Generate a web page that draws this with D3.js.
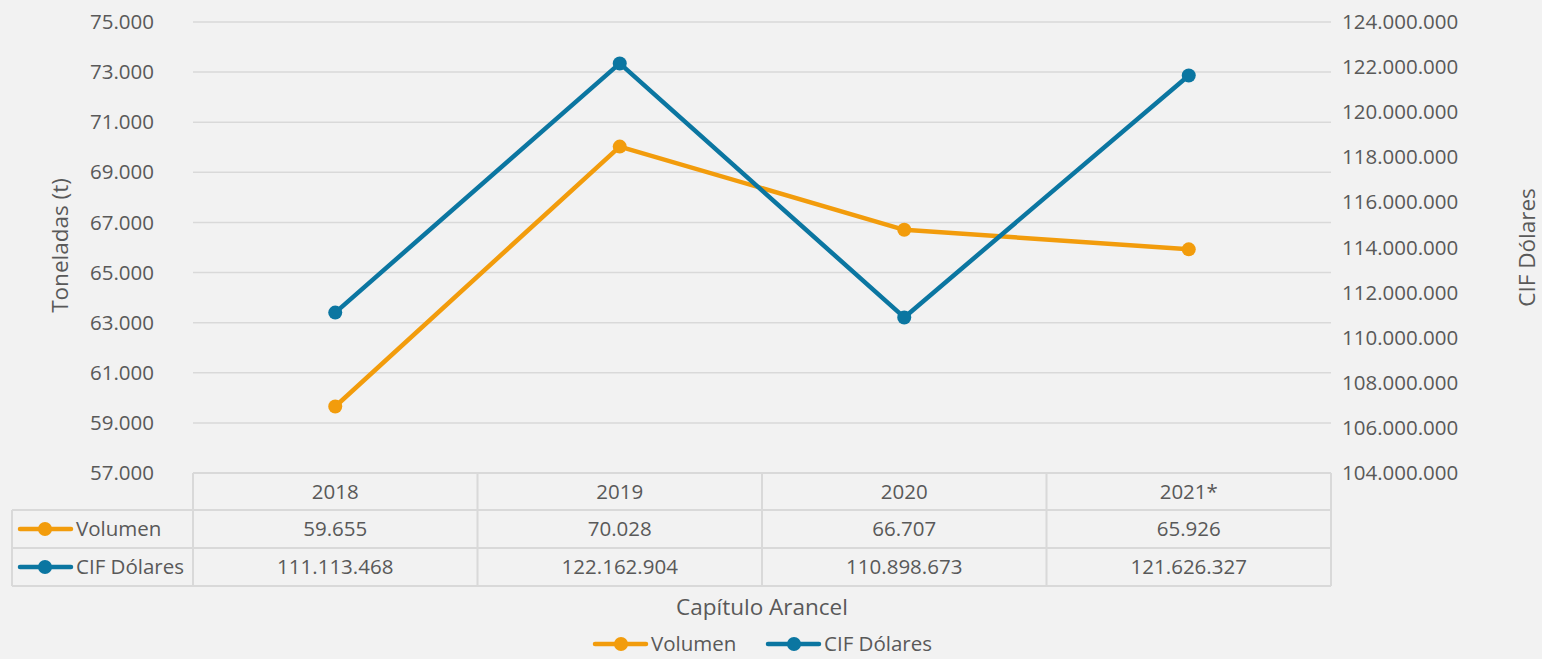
<!DOCTYPE html>
<html><head><meta charset="utf-8">
<script src="https://cdn.jsdelivr.net/npm/d3@7"></script>
<style>body{margin:0;background:#f2f2f2}svg{display:block}text{font-family:"Open Sans",sans-serif;fill:#595959}</style>
</head><body>
<svg id="c" width="1542" height="659"></svg>
<script>
const categories = ["2018","2019","2020","2021*"];
const volumen = [59655, 70028, 66707, 65926];
const cif = [111113468, 122162904, 110898673, 121626327];
const leftTicks = [57000,59000,61000,63000,65000,67000,69000,71000,73000,75000];
const rightTicks = [104000000,106000000,108000000,110000000,112000000,114000000,116000000,118000000,120000000,122000000,124000000];
const seriesNames = ["Volumen","CIF Dólares"];
const colors = ["#f29c0c","#0b76a1"];

const svg = d3.select("#c");
const W=1542,H=659;
svg.append("rect").attr("width",W).attr("height",H).attr("fill","#f2f2f2");
const L=193,R=1331,T=22,B=473;
const fmt = v => d3.format(",")(v).replace(/,/g,".");
const x = d3.scaleBand().domain(categories).range([L,R]);
const yL = d3.scaleLinear().domain([57000,75000]).range([B,T]);
const yR = d3.scaleLinear().domain([104000000,124000000]).range([B,T]);
const fs=20.5, fsT=22.5;

// grid
svg.append("g").selectAll("line").data(leftTicks.slice(1)).join("line")
 .attr("x1",L).attr("x2",R).attr("y1",d=>yL(d)).attr("y2",d=>yL(d))
 .attr("stroke","#d9d9d9").attr("stroke-width",1.5);

// axes
const gl = svg.append("g").attr("transform",`translate(${L},0)`).call(d3.axisLeft(yL).tickValues(leftTicks).tickFormat(fmt).tickSize(0).tickPadding(39));
gl.select(".domain").remove();
gl.selectAll("text").attr("font-size",fs).attr("fill","#595959").style("font-family","Open Sans");
const gr = svg.append("g").attr("transform",`translate(${R},0)`).call(d3.axisRight(yR).tickValues(rightTicks).tickFormat(fmt).tickSize(0).tickPadding(11));
gr.select(".domain").remove();
gr.selectAll("text").attr("font-size",fs).attr("fill","#595959").style("font-family","Open Sans");

svg.append("text").attr("transform",`translate(68,${(T+B)/2-2}) rotate(-90)`).attr("text-anchor","middle").attr("font-size",fsT).text("Toneladas (t)");
svg.append("text").attr("transform",`translate(1535,${(T+B)/2}) rotate(-90)`).attr("text-anchor","middle").attr("font-size",fsT).text("CIF Dólares");

// lines
const cx = d => x(d)+x.bandwidth()/2;
const series = [{name:seriesNames[0],vals:volumen,y:yL,c:colors[0]},{name:seriesNames[1],vals:cif,y:yR,c:colors[1]}];
series.forEach(s=>{
  const line = d3.line().x((d,i)=>cx(categories[i])).y(d=>s.y(d));
  svg.append("path").datum(s.vals).attr("d",line).attr("fill","none").attr("stroke",s.c).attr("stroke-width",4.5).attr("stroke-linejoin","round");
  svg.append("g").selectAll("circle").data(s.vals).join("circle")
   .attr("cx",(d,i)=>cx(categories[i])).attr("cy",d=>s.y(d)).attr("r",7).attr("fill",s.c);
});

// data table
const rowsY=[473,510,548,586];
const tb = svg.append("g").attr("stroke","#d9d9d9").attr("stroke-width",2).attr("fill","none");
tb.append("line").attr("x1",L).attr("x2",R).attr("y1",rowsY[0]).attr("y2",rowsY[0]);
for(let i=1;i<4;i++) tb.append("line").attr("x1",12).attr("x2",R).attr("y1",rowsY[i]).attr("y2",rowsY[i]);
tb.append("line").attr("x1",12).attr("x2",12).attr("y1",rowsY[1]).attr("y2",rowsY[3]);
categories.forEach(c=>tb.append("line").attr("x1",x(c)).attr("x2",x(c)).attr("y1",rowsY[0]).attr("y2",rowsY[3]));
tb.append("line").attr("x1",R).attr("x2",R).attr("y1",rowsY[0]).attr("y2",rowsY[3]);

categories.forEach(c=>svg.append("text").attr("x",cx(c)).attr("y",(rowsY[0]+rowsY[1])/2).attr("dy","0.35em").attr("text-anchor","middle").attr("font-size",fs).text(c));
series.forEach((s,r)=>{
  const ym=(rowsY[r+1]+rowsY[r+2])/2;
  svg.append("line").attr("x1",20).attr("x2",71).attr("y1",ym).attr("y2",ym).attr("stroke",s.c).attr("stroke-width",4.5).attr("stroke-linecap","round");
  svg.append("circle").attr("cx",45).attr("cy",ym).attr("r",7).attr("fill",s.c);
  svg.append("text").attr("x",76).attr("y",ym).attr("dy","0.35em").attr("font-size",fs).text(s.name);
  s.vals.forEach((v,i)=>svg.append("text").attr("x",cx(categories[i])).attr("y",ym).attr("dy","0.35em").attr("text-anchor","middle").attr("font-size",fs).text(fmt(v)));
});

svg.append("text").attr("x",(L+R)/2).attr("y",607).attr("dy","0.35em").attr("text-anchor","middle").attr("font-size",fsT).text("Capítulo Arancel");

// legend
const legX=[595,768];
series.forEach((s,i)=>{
  const ly=644, lx=legX[i];
  svg.append("line").attr("x1",lx).attr("x2",lx+51).attr("y1",ly).attr("y2",ly).attr("stroke",s.c).attr("stroke-width",4.5).attr("stroke-linecap","round");
  svg.append("circle").attr("cx",lx+26).attr("cy",ly).attr("r",7).attr("fill",s.c);
  svg.append("text").attr("x",lx+56).attr("y",ly).attr("dy","0.35em").attr("font-size",fs).text(s.name);
});
</script>
</body></html>
